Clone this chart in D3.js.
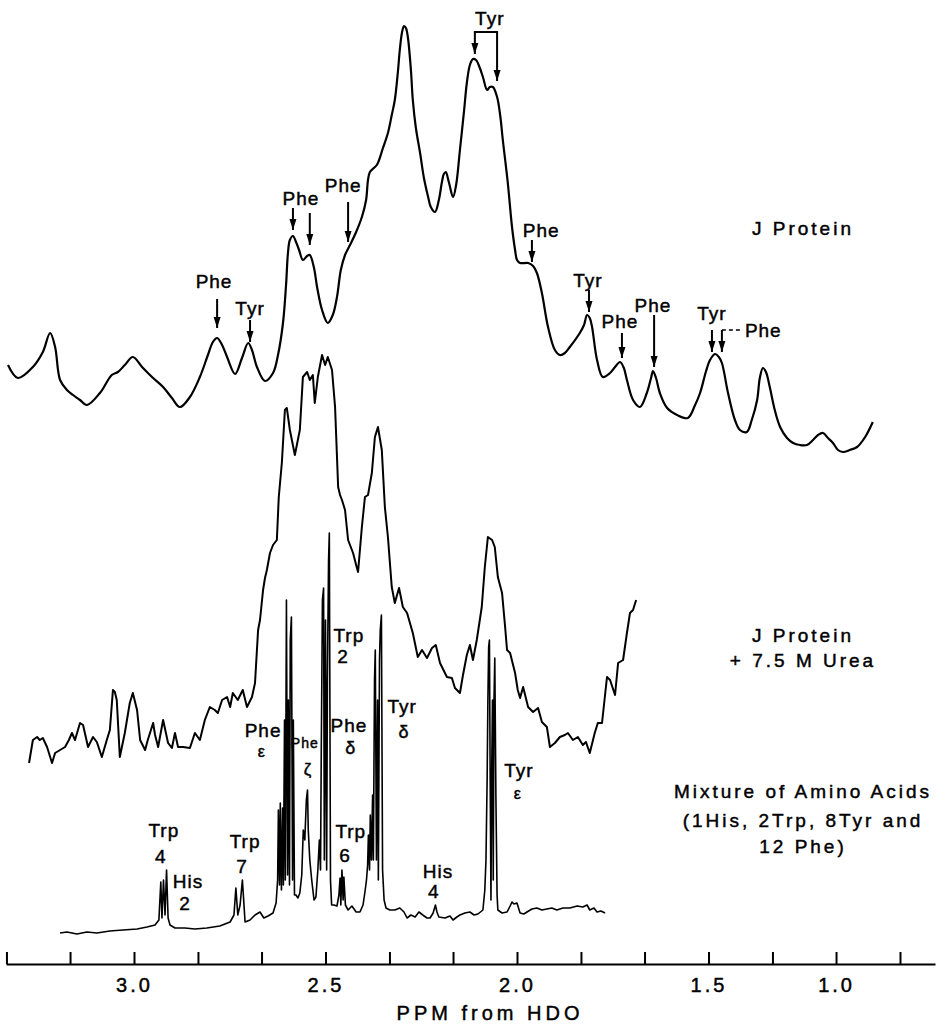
<!DOCTYPE html>
<html>
<head>
<meta charset="utf-8">
<script src="https://cdn.jsdelivr.net/npm/d3@7"></script>
<style>
  body { margin: 0; background: #fff; }
  svg text { font-family: "Liberation Sans", Arial, sans-serif; fill: #000; stroke: #000; stroke-width: 0.45px; }
</style>
</head>
<body>
<div id="chart"></div>
<script>
/// Spectra as [ppm, height]
const jProtein = [
  [3.329,95],[3.303,82],[3.264,93],[3.238,108],[3.219,127],[3.206,113],[3.193,80],[3.175,70],[3.159,65],[3.141,60],
  [3.123,55],[3.089,67],[3.058,85],[3.042,88],[3.024,95],[3.003,103],[2.979,93],[2.953,83],[2.924,73],[2.901,62],
  [2.880,53],[2.854,63],[2.828,83],[2.807,105],[2.794,118],[2.783,122],[2.770,115],[2.757,103],[2.736,86],[2.718,102],
  [2.702,117],[2.692,110],[2.679,93],[2.658,79],[2.637,87],[2.624,105],[2.611,137],[2.603,175],[2.598,207],[2.593,220],
  [2.585,224],[2.577,218],[2.569,210],[2.559,200],[2.548,204],[2.541,205],[2.530,192],[2.522,173],[2.509,150],[2.494,137],
  [2.481,145],[2.470,163],[2.460,190],[2.449,205],[2.436,215],[2.420,228],[2.405,243],[2.394,260],[2.389,280],[2.384,288],
  [2.366,295],[2.350,312],[2.337,327],[2.327,345],[2.319,360],[2.311,388],[2.306,410],[2.300,428],[2.295,434],[2.290,432],
  [2.285,423],[2.277,390],[2.272,360],[2.264,332],[2.253,307],[2.243,282],[2.232,263],[2.225,253],[2.214,248],[2.204,260],
  [2.196,278],[2.191,286],[2.186,288],[2.178,278],[2.167,263],[2.159,275],[2.149,310],[2.138,350],[2.131,377],[2.123,395],
  [2.115,401],[2.107,400],[2.097,392],[2.089,383],[2.078,370],[2.071,373],[2.063,373],[2.052,363],[2.044,345],[2.037,320],
  [2.024,277],[2.013,233],[2.005,210],[2.000,200],[1.992,197],[1.971,197],[1.958,194],[1.948,187],[1.935,167],[1.919,133],
  [1.901,110],[1.888,105],[1.875,107],[1.862,113],[1.836,127],[1.825,135],[1.817,145],[1.810,142],[1.804,133],[1.791,100],
  [1.776,83],[1.757,87],[1.744,93],[1.731,98],[1.721,92],[1.713,80],[1.697,60],[1.679,53],[1.661,67],[1.650,82],
  [1.645,89],[1.637,82],[1.627,67],[1.608,52],[1.582,45],[1.554,42],[1.535,55],[1.522,67],[1.507,88],[1.496,100],
  [1.483,106],[1.473,103],[1.465,97],[1.449,67],[1.431,40],[1.418,30],[1.400,28],[1.387,40],[1.373,60],[1.366,82],
  [1.358,92],[1.350,88],[1.340,73],[1.327,50],[1.313,33],[1.295,22],[1.279,17],[1.261,15],[1.243,15],[1.227,20],
  [1.214,25],[1.201,27],[1.188,22],[1.175,17],[1.162,10],[1.149,8],[1.131,10],[1.112,13],[1.091,23],[1.071,38]
];

const jProteinUrea = [
  [3.274,17],[3.264,40],[3.253,43],[3.246,40],[3.238,42],[3.227,33],[3.214,17],[3.206,27],[3.193,30],[3.180,33],
  [3.170,40],[3.162,47],[3.154,40],[3.141,57],[3.133,55],[3.120,33],[3.107,43],[3.097,38],[3.084,23],[3.071,40],
  [3.063,50],[3.055,90],[3.050,88],[3.045,80],[3.037,23],[3.024,47],[3.011,77],[3.003,87],[2.992,70],[2.984,40],
  [2.971,30],[2.964,40],[2.950,57],[2.945,45],[2.937,33],[2.924,60],[2.911,37],[2.901,32],[2.893,47],[2.885,33],
  [2.872,33],[2.854,32],[2.841,47],[2.828,40],[2.815,60],[2.802,73],[2.789,70],[2.781,67],[2.770,80],[2.757,83],
  [2.749,73],[2.742,87],[2.729,80],[2.716,90],[2.705,73],[2.692,83],[2.684,97],[2.676,150],[2.671,160],[2.663,190],
  [2.658,202],[2.653,210],[2.645,227],[2.637,235],[2.627,240],[2.622,283],[2.614,317],[2.606,370],[2.601,372],[2.593,350],
  [2.580,325],[2.567,350],[2.559,403],[2.548,408],[2.541,400],[2.533,405],[2.528,377],[2.520,403],[2.509,425],[2.501,415],
  [2.494,423],[2.483,410],[2.475,373],[2.467,293],[2.462,285],[2.457,280],[2.449,270],[2.441,240],[2.428,227],[2.420,215],
  [2.415,208],[2.405,253],[2.397,283],[2.389,285],[2.379,307],[2.371,343],[2.363,353],[2.353,330],[2.345,273],[2.337,243],
  [2.327,193],[2.319,177],[2.308,192],[2.298,173],[2.287,167],[2.272,147],[2.259,123],[2.248,130],[2.235,122],[2.222,132],
  [2.212,135],[2.201,117],[2.183,103],[2.170,102],[2.162,92],[2.149,87],[2.141,105],[2.131,125],[2.123,135],[2.115,120],
  [2.105,140],[2.092,173],[2.084,213],[2.076,243],[2.065,240],[2.058,233],[2.050,203],[2.039,187],[2.031,153],[2.026,130],
  [2.018,127],[2.005,107],[1.998,90],[1.992,82],[1.984,93],[1.971,73],[1.958,68],[1.945,72],[1.935,58],[1.922,53],
  [1.914,33],[1.901,37],[1.888,43],[1.875,45],[1.867,47],[1.854,40],[1.841,43],[1.828,35],[1.820,38],[1.810,27],
  [1.797,47],[1.789,57],[1.778,57],[1.765,103],[1.757,100],[1.744,85],[1.736,117],[1.723,120],[1.713,147],[1.705,167],
  [1.697,170],[1.689,180]
];

const aminoMix = [
  [3.193,7],[3.175,8],[3.149,6],[3.123,8],[3.097,7],[3.063,9],[3.029,10],[2.992,11],[2.966,13],[2.945,15],
  [2.935,20],[2.930,58],[2.927,22],[2.923,60],[2.919,25],[2.915,70],[2.911,22],[2.906,15],[2.893,12],[2.867,12],
  [2.841,11],[2.810,12],[2.776,14],[2.749,18],[2.739,25],[2.734,52],[2.729,25],[2.723,35],[2.717,60],[2.710,18],
  [2.697,20],[2.684,25],[2.671,28],[2.661,22],[2.650,24],[2.637,27],[2.629,37],[2.625,60],[2.623,130],[2.620,55],
  [2.618,137],[2.615,50],[2.612,132],[2.610,55],[2.607,220],[2.605,60],[2.602,340],[2.599,65],[2.597,240],[2.594,55],
  [2.592,300],[2.589,323],[2.586,60],[2.584,220],[2.581,45],[2.577,45],[2.572,42],[2.567,47],[2.562,65],[2.558,110],
  [2.554,100],[2.550,140],[2.547,150],[2.545,110],[2.541,80],[2.536,60],[2.530,40],[2.525,43],[2.520,70],[2.516,100],
  [2.513,70],[2.511,190],[2.508,340],[2.505,352],[2.503,80],[2.500,320],[2.497,70],[2.495,260],[2.492,380],[2.490,407],
  [2.487,60],[2.484,35],[2.478,35],[2.470,34],[2.465,45],[2.462,62],[2.460,35],[2.457,70],[2.454,40],[2.452,63],
  [2.448,35],[2.441,30],[2.431,34],[2.420,28],[2.410,28],[2.402,35],[2.397,48],[2.393,60],[2.390,75],[2.388,105],
  [2.385,70],[2.383,125],[2.380,80],[2.377,145],[2.375,80],[2.372,260],[2.370,290],[2.367,80],[2.364,240],[2.362,60],
  [2.359,280],[2.357,310],[2.354,325],[2.351,70],[2.347,40],[2.342,32],[2.332,30],[2.319,30],[2.306,32],[2.295,28],
  [2.287,22],[2.277,25],[2.266,23],[2.256,28],[2.246,25],[2.235,22],[2.227,22],[2.219,27],[2.213,35],[2.209,28],
  [2.204,23],[2.188,22],[2.175,24],[2.167,20],[2.157,23],[2.149,25],[2.136,27],[2.123,28],[2.112,25],[2.102,26],
  [2.089,30],[2.084,50],[2.081,80],[2.078,160],[2.076,240],[2.074,293],[2.072,300],[2.070,160],[2.068,40],[2.066,170],
  [2.064,240],[2.062,60],[2.060,240],[2.058,282],[2.055,140],[2.052,45],[2.050,30],[2.039,27],[2.026,28],[2.018,34],
  [2.013,38],[2.008,36],[2.000,37],[1.992,27],[1.982,26],[1.974,28],[1.961,31],[1.948,32],[1.935,30],[1.922,31],
  [1.909,32],[1.896,30],[1.880,32],[1.862,32],[1.843,34],[1.828,33],[1.817,35],[1.810,30],[1.799,32],[1.791,28],
  [1.781,29],[1.770,27]
];

/// Axis ticks every 10 Hz (1/6 ppm), labels as printed
const tickPpm = [3.333,3.167,3.0,2.833,2.667,2.5,2.333,2.167,2.0,1.833,1.667,1.5,1.333,1.167,1.0];
const labelAt = [3.0, 2.5, 2.0, 1.5, 1.167];
const labelText = ["3.0", "2.5", "2.0", "1.5", "1.0"];

/// Peak assignments on the native protein: [text, ppm, baseline]
const topNotes = [
  ["Phe",2.791,288],["Tyr",2.697,315],["Phe",2.564,205],["Phe",2.454,192],["Tyr",2.071,25],
  ["Phe",1.937,237],["Tyr",1.815,287],["Phe",1.731,328],["Phe",1.645,312],["Tyr",1.491,320]
];
/// arrows: [ppm, from, to]
const topArrows = [
  [2.783,299,328],[2.697,320,342],[2.585,208,230],[2.541,213,245],[2.441,202,242],
  [1.961,240,262],[1.812,290,312],[1.726,333,358],[1.642,315,367],[1.491,330,352],[1.465,330,352]
];

/// Mixture assignments: [text, ppm, baseline, size]
const mixNotes = [
  ["Trp",2.922,837,19],["4",2.930,863,19],["His",2.859,888,19],["2",2.867,910,19],
  ["Trp",2.710,848,19],["7",2.718,873,19],["Phe",2.663,737,19],["\u03b5",2.666,757,16],
  ["Phe",2.554,748,14],["\u03b6",2.546,775,17],["Trp",2.439,642,19],["2",2.454,663,19],
  ["Phe",2.439,732,19],["\u03b4",2.434,754,18],["Tyr",2.300,713,19],["\u03b4",2.295,738,18],
  ["Trp",2.434,838,19],["6",2.449,862,19],["His",2.206,878,19],["4",2.217,898,19],
  ["Tyr",1.995,777,19],["\u03b5",1.998,799,16]
];

const traceTitles = [
  ["J Protein", 235], ["J Protein", 642], ["+ 7.5 M Urea", 667],
  ["Mixture of Amino Acids", 798], ["(1His, 2Trp, 8Tyr and", 827], ["12 Phe)", 853]
];

const l_Width = 940, l_Height = 1025;

let l_Svg = d3.select("#chart").append("svg")
  .attr("width", l_Width)
  .attr("height", l_Height);

/// ppm runs right to left
let x = d3.scaleLinear().domain([3.3342, 0.9086]).range([6, 935]);

/// one unit of height is one pixel above each trace's base line
let yTop = d3.scaleLinear().domain([0, 460]).range([460, 0]);
let yMid = d3.scaleLinear().domain([0, 780]).range([780, 0]);
let yBot = d3.scaleLinear().domain([0, 940]).range([940, 0]);

let l_Smooth = d3.line().x(d => x(d[0])).y(d => yTop(d[1])).curve(d3.curveCatmullRom.alpha(0.5));
let l_Mid = d3.line().x(d => x(d[0])).y(d => yMid(d[1]));
let l_Bot = d3.line().x(d => x(d[0])).y(d => yBot(d[1]));

l_Svg.append("path").datum(jProtein).attr("d", l_Smooth)
  .attr("fill", "none").attr("stroke", "#000").attr("stroke-width", 2.2);
l_Svg.append("path").datum(jProteinUrea).attr("d", l_Mid)
  .attr("fill", "none").attr("stroke", "#000").attr("stroke-width", 2).attr("stroke-linejoin", "round");
l_Svg.append("path").datum(aminoMix).attr("d", l_Bot)
  .attr("fill", "none").attr("stroke", "#000").attr("stroke-width", 1.6).attr("stroke-linejoin", "round");

/// Arrow head
l_Svg.append("defs").append("marker")
  .attr("id", "head")
  .attr("viewBox", "0 -4 11 8")
  .attr("refX", 11).attr("refY", 0)
  .attr("markerUnits", "userSpaceOnUse")
  .attr("markerWidth", 11).attr("markerHeight", 8)
  .attr("orient", "auto")
  .append("path").attr("d", "M0,-3.5L11,0L0,3.5Z").attr("fill", "#000");

l_Svg.append("g").selectAll("line")
  .data(topArrows).enter().append("line")
  .attr("x1", d => x(d[0])).attr("x2", d => x(d[0]))
  .attr("y1", d => d[1]).attr("y2", d => d[2])
  .attr("stroke", "#000").attr("stroke-width", 2)
  .attr("marker-end", "url(#head)");

/// Tyr bracket over the doublet and the dashed lead to the last Phe
l_Svg.append("path")
  .attr("d", "M" + x(2.110) + ",52V32H" + x(2.052) + "V70")
  .attr("fill", "none").attr("stroke", "#000").attr("stroke-width", 2);
l_Svg.append("line").attr("x1", x(2.110)).attr("x2", x(2.110)).attr("y1", 44).attr("y2", 54)
  .attr("stroke", "#000").attr("stroke-width", 2).attr("marker-end", "url(#head)");
l_Svg.append("line").attr("x1", x(2.052)).attr("x2", x(2.052)).attr("y1", 70).attr("y2", 81)
  .attr("stroke", "#000").attr("stroke-width", 2).attr("marker-end", "url(#head)");
l_Svg.append("line")
  .attr("x1", x(1.465)).attr("x2", x(1.410)).attr("y1", 330).attr("y2", 330)
  .attr("stroke", "#000").attr("stroke-width", 1.5).attr("stroke-dasharray", "4,3");

l_Svg.append("g").selectAll("text")
  .data(topNotes).enter().append("text")
  .attr("x", d => x(d[1])).attr("y", d => d[2])
  .attr("text-anchor", "middle")
  .attr("font-size", 19).attr("letter-spacing", 1)
  .text(d => d[0]);
l_Svg.append("text")
  .attr("x", x(1.405)).attr("y", 337)
  .attr("font-size", 19).attr("letter-spacing", 1)
  .text("Phe");

l_Svg.append("g").selectAll("text")
  .data(mixNotes).enter().append("text")
  .attr("x", d => x(d[1])).attr("y", d => d[2])
  .attr("text-anchor", "middle")
  .attr("font-size", d => d[3])
  .attr("letter-spacing", 1)
  .text(d => d[0]);

l_Svg.append("g").selectAll("text")
  .data(traceTitles).enter().append("text")
  .attr("x", 803).attr("y", d => d[1])
  .attr("text-anchor", "middle")
  .attr("font-size", 19).attr("letter-spacing", 3)
  .text(d => d[0]);

/// Axis, ticks pointing up
let l_Axis = d3.axisBottom(x)
  .tickValues(tickPpm)
  .tickSizeInner(-12)
  .tickSizeOuter(0)
  .tickPadding(10)
  .tickFormat(d => {
    let i = labelAt.findIndex(v => Math.abs(v - d) < 0.01);
    return i >= 0 ? labelText[i] : "";
  });

let l_G = l_Svg.append("g")
  .attr("transform", "translate(0,964)")
  .call(l_Axis);
l_G.select(".domain").attr("stroke-width", 2);
l_G.selectAll(".tick line").attr("stroke-width", 2);
l_G.selectAll(".tick text")
  .attr("font-family", "Liberation Sans, Arial, sans-serif")
  .attr("font-size", 20).attr("letter-spacing", 3)
  .attr("dy", "0.9em");

l_Svg.append("text")
  .attr("x", 490).attr("y", 1020)
  .attr("text-anchor", "middle")
  .attr("font-size", 20).attr("letter-spacing", 4)
  .text("PPM from HDO");
</script>
</body>
</html>
